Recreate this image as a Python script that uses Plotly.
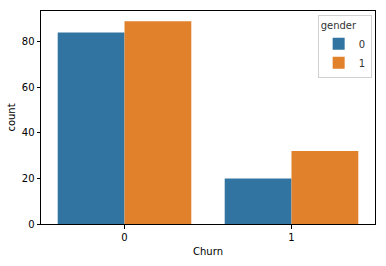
import plotly.graph_objects as go

churn = ["0", "1"]
gender_labels = ["0", "1"]
counts_gender0 = [84, 20]
counts_gender1 = [89, 32]
colors = ["#3274a1", "#e1812c"]

fig = go.Figure()
for lab, vals, col in zip(gender_labels, [counts_gender0, counts_gender1], colors):
    fig.add_trace(go.Bar(x=churn, y=vals, name=lab, marker=dict(color=col, line=dict(width=0))))

ymax = max(counts_gender0 + counts_gender1) * 1.05

fig.update_layout(
    width=386, height=266,
    margin=dict(l=41, r=10, t=10, b=38),
    paper_bgcolor="white", plot_bgcolor="white",
    barmode="group", bargap=0.2, bargroupgap=0,
    font=dict(family="DejaVu Sans", size=10, color="black"),
    legend=dict(
        title=dict(text="gender", font=dict(size=10, color="#333")),
        x=0.99, y=0.98, xanchor="right", yanchor="top",
        bordercolor="#d0d0d0", borderwidth=1, bgcolor="rgba(255,255,255,0.8)",
        font=dict(size=10, color="#333"), itemwidth=30,
        tracegroupgap=0,
    ),
    xaxis=dict(
        type="category", range=[-0.5, 1.5],
        showline=True, linecolor="black", linewidth=1, mirror=True,
        ticks="outside", ticklen=3.5, tickcolor="black",
        tickfont=dict(size=10, color="black"),
        showgrid=False, zeroline=False,
        title=dict(text="Churn", standoff=6, font=dict(size=10, color="black")),
    ),
    yaxis=dict(
        range=[0, ymax],
        tickvals=[0, 20, 40, 60, 80],
        showline=True, linecolor="black", linewidth=1, mirror=True,
        ticks="outside", ticklen=3.5, tickcolor="black",
        tickfont=dict(size=10, color="black"),
        showgrid=False, zeroline=False,
        title=dict(text="count", standoff=4, font=dict(size=10, color="black")),
    ),
    showlegend=True,
)

fig.write_html("out.html")
